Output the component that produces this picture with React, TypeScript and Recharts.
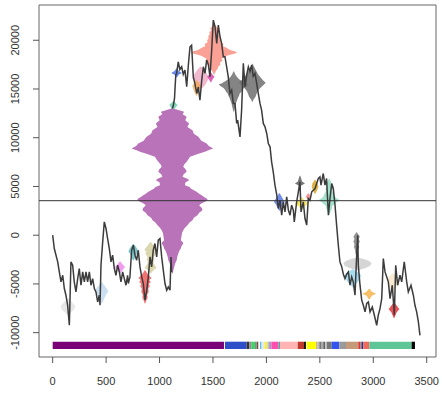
import React from 'react';
import { ComposedChart, Line, Area, XAxis, YAxis, ReferenceArea, ReferenceLine } from 'recharts';

// ---- main series (index, value); null = gap in the drawn line ----
const walk: [number, number | null][] = [
  [0, 0], [15, -1370], [47, -2740], [62, -3770], [78, -4790], [94, -4110], [109, -5470], [124, -6160],
  [140, -7190], [156, -9240], [171, -2740], [187, -3080], [202, -4790], [218, -5820], [234, -4450],
  [249, -3420], [265, -5130], [281, -3770], [296, -4790], [312, -3770], [327, -4790], [343, -3770],
  [358, -5130], [374, -4450], [390, -5470], [405, -5820], [421, -6850], [436, -6160], [443, -7190],
  [452, -3080], [468, -690], [483, 1370], [499, 690], [514, -340], [530, -1370], [546, -2740],
  [561, -2050], [577, -3420], [592, -4110], [608, -3080], [624, -3770], [639, -4790], [655, -3770],
  [670, -4450], [686, -5130], [701, -4110], [708, -4960], [723, -4280], [739, -1540], [755, -1030],
  [770, -2050], [786, -2570], [801, -1540], [817, -3250], [833, -4280], [848, -4960], [864, -6670],
  [880, -5650], [895, -4280], [911, -2230], [926, -3250], [941, -1540], [957, -850], [973, -2230],
  [988, -510], [1004, -340], [1020, -2230], [1035, -3590], [1051, -4960], [1067, -5650], [1082, -5300],
  [1098, -5650], [1107, -2230], [1113, -3800], [1116, null],
  [1120, 13000], [1130, 13350], [1140, 14030], [1145, 15060], [1152, 16430], [1160, 16600],
  [1175, 17790], [1190, 17000], [1207, 17280], [1222, 16500], [1238, 16940], [1254, 15230],
  [1270, 17500], [1285, 19330], [1300, 19500], [1316, 16250], [1332, 15500], [1348, 14540],
  [1363, 15200], [1378, 13860], [1394, 15800], [1410, 17280], [1425, 16600], [1441, 17970],
  [1457, 17500], [1472, 16250], [1488, 19000], [1503, 22070], [1519, 21390], [1535, 19680],
  [1550, 21560], [1566, 20360], [1581, 19680], [1597, 18310], [1612, 18310], [1628, 17280],
  [1643, 16250], [1659, 14540], [1675, 14890], [1690, 13520], [1706, 13520], [1722, 11470],
  [1731, 11810], [1753, 10090], [1768, 12830], [1784, 17630], [1800, 15230], [1815, 16400],
  [1831, 17280], [1846, 16800], [1862, 17450], [1877, 16300], [1893, 16600], [1909, 15570],
  [1924, 14540], [1940, 13520], [1955, 12830], [1971, 11470], [1987, 11120], [2003, 10440],
  [2018, 9410], [2034, 9070], [2049, 7500], [2064, 6500], [2080, 5130], [2096, 4200], [2111, 2740],
  [2127, 3590], [2143, 2050], [2158, 3420], [2174, 2390], [2190, 3930], [2205, 2600], [2221, 2050],
  [2236, 3080], [2252, 2570], [2261, 1370], [2283, 3420], [2299, 4450], [2314, 5470], [2324, 2390],
  [2345, 3420], [2361, 1710], [2377, 1030], [2392, 3770], [2408, 3590], [2424, 4450], [2439, 4620],
  [2455, 4790], [2470, 5300], [2486, 5820], [2501, 5990], [2511, 5130], [2532, 6330], [2548, 5130],
  [2563, 5820], [2580, 2050], [2595, 3770], [2611, 5300], [2626, 4790], [2642, 3080], [2657, 1030],
  [2673, -1030], [2688, -2740], [2704, -3200], [2720, -4000], [2735, -4450], [2751, -4000],
  [2767, -3770], [2782, -5130], [2798, -4280], [2813, -4790], [2829, -6160], [2845, -2000],
  [2854, 0], [2860, -3080], [2876, -5130], [2892, -6670], [2907, -7190], [2923, -7870], [2939, -7000],
  [2954, -6850], [2970, -7870], [2991, -7360], [3010, -8210], [3032, -9240], [3047, -8210],
  [3063, -7530], [3079, -6500], [3094, -2390], [3110, -3770], [3126, -4280], [3141, -4790],
  [3157, -6500], [3178, -5130], [3197, -8210], [3210, -3080], [3228, -5130], [3250, -4110],
  [3266, -4790], [3290, -2740], [3313, -4790], [3328, -5820], [3353, -5130], [3375, -6160],
  [3390, -7190], [3406, -7870], [3422, -8900], [3437, -10270],
];

const hLevel = 3540;

// ---- bottom segment bar ----
const barStart = [0, 1612, 1815, 1840, 1862, 1893, 1909, 1940, 1955, 1986, 2003, 2018, 2034, 2049, 2112, 2127, 2293, 2352, 2377, 2464, 2480, 2495, 2517, 2533, 2548, 2564, 2611, 2682, 2745, 2860, 2880, 2891, 2906, 2963, 3359];
const barEnd = [1603, 1815, 1840, 1862, 1893, 1909, 1924, 1955, 1986, 2003, 2018, 2034, 2049, 2112, 2127, 2293, 2352, 2370, 2464, 2480, 2495, 2517, 2533, 2548, 2564, 2611, 2682, 2745, 2860, 2880, 2891, 2906, 2963, 3359, 3390];
const barColor = ['#7A0077', '#2E4FC7', '#333333', '#8C8C8C', '#35D864', '#8C8C8C', '#6B5A4A', '#5BC0EB', '#E8E8E8', '#FFF200', '#D8D8A0', '#B0A0D0', '#C080C0', '#FF4FAF', '#5F9EA0', '#FFB3B3', '#C0392B', '#111111', '#FFFF00', '#D2B48C', '#BBBBBB', '#777777', '#AAAAAA', '#555555', '#C8C8C8', '#777777', '#3355EE', '#9A9A9A', '#C49A7A', '#E8342B', '#777777', '#223399', '#F06A5A', '#5DC596', '#000000'];
const barLow = -11675;
const barHigh = -10926;

// ---- glyphs: rows of [value, half-width] around a centre index ----
const purpleRows = [[13250, 3], [13005, 8], [12662, 109], [12400, 95], [12149, 133], [11800, 120], [11465, 156], [11100, 140], [10780, 187], [10400, 200], [10096, 242], [9700, 270], [9411, 320], [9150, 340], [8898, 382], [8700, 330], [8556, 304], [8300, 230], [8042, 164], [7800, 150], [7529, 133], [7250, 110], [7016, 101], [6750, 125], [6502, 133], [6250, 105], [5989, 94], [5800, 140], [5647, 156], [5400, 120], [5133, 117], [4950, 160], [4791, 172], [4600, 200], [4449, 226], [4250, 250], [4107, 273], [3900, 300], [3765, 320], [3600, 330], [3422, 304], [3250, 270], [3080, 250], [2800, 275], [2567, 281], [2300, 250], [2053, 234], [1800, 200], [1540, 187], [1300, 160], [1027, 140], [750, 115], [513, 101], [250, 90], [0, 86], [-250, 82], [-513, 78], [-700, 95], [-856, 101], [-1100, 85], [-1369, 78], [-1600, 65], [-1882, 55], [-2200, 45], [-2567, 39], [-2900, 25], [-3251, 16], [-3600, 8], [-3935, 3]];
const salmonRows = [[21700, 3], [21400, 20], [21200, 35], [21000, 28], [20800, 45], [20600, 40], [20400, 55], [20200, 50], [20000, 65], [19800, 60], [19600, 90], [19400, 80], [19200, 120], [19000, 150], [18850, 200], [18700, 215], [18550, 160], [18400, 120], [18250, 95], [18100, 70], [17900, 80], [17700, 55], [17500, 60], [17300, 40], [17100, 35], [16900, 20], [16700, 10], [16500, 3]];
const grey1Rows = [[16800, 3], [16500, 15], [16250, 30], [16000, 50], [15800, 80], [15600, 110], [15450, 140], [15300, 125], [15100, 95], [14900, 80], [14700, 70], [14500, 55], [14300, 50], [14100, 40], [13800, 30], [13500, 20], [13100, 12], [12700, 3]];
const grey2Rows = [[17600, 3], [17300, 15], [17000, 30], [16700, 45], [16400, 60], [16150, 80], [15900, 100], [15650, 125], [15450, 110], [15200, 85], [15000, 65], [14750, 50], [14500, 40], [14200, 30], [13900, 10], [13700, 3]];
const pinkRows = [[17300, 3], [17000, 30], [16700, 50], [16400, 65], [16100, 80], [15800, 60], [15500, 45], [15200, 25], [15000, 3]];
const orangeRows = [[15900, 3], [15600, 25], [15300, 40], [15000, 30], [14700, 20], [14300, 3]];
const magentaRows = [[16700, 3], [16400, 20], [16250, 35], [16050, 20], [15700, 3]];
const blueRows = [[17100, 3], [16850, 20], [16650, 50], [16450, 20], [16200, 3]];
const tealRows = [[13750, 3], [13500, 25], [13350, 40], [13150, 25], [12900, 3]];
const blue2Rows = [[4300, 3], [4000, 20], [3600, 40], [3420, 51], [3200, 35], [2800, 15], [2500, 3]];
const yellowRows = [[3900, 3], [3500, 30], [3250, 62], [3000, 30], [2600, 3]];
const greyStarRows = [[6100, 3], [5800, 12], [5500, 20], [5300, 47], [5100, 12], [4600, 3]];
const goldRows = [[5700, 3], [5300, 25], [4960, 31], [4600, 20], [4250, 3]];
const salmon2Rows = [[4300, 3], [3950, 25], [3600, 3]];
const teal2Rows = [[5800, 3], [5500, 15], [5300, 25], [5000, 20], [4800, 35], [4500, 30], [4200, 45], [3950, 55], [3800, 70], [3590, 101], [3400, 70], [3200, 50], [3000, 30], [2700, 25], [2400, 12], [2100, 3]];
const greyTallRows = [[300, 3], [100, 15], [-150, 30], [-400, 20], [-650, 30], [-900, 20], [-1200, 25], [-1500, 15], [-1800, 12], [-2200, 3]];
const lightGreyRows = [[-2300, 3], [-2450, 60], [-2650, 110], [-2900, 133], [-3150, 115], [-3400, 70], [-3600, 3]];
const lightBlueRows = [[-3500, 3], [-3800, 50], [-4100, 80], [-4400, 70], [-4700, 55], [-5000, 30], [-5350, 3]];
const orange2Rows = [[-5500, 3], [-5800, 25], [-6000, 65], [-6200, 25], [-6600, 3]];
const red2Rows = [[-6900, 3], [-7300, 30], [-7600, 50], [-7900, 25], [-8500, 3]];
const wheatRows = [[-3900, 3], [-4300, 35], [-4700, 50], [-5100, 40], [-5500, 20], [-5850, 3]];
const lightGrey2Rows = [[-6500, 3], [-6900, 40], [-7300, 70], [-7600, 60], [-7900, 30], [-8200, 3]];
const lightBlue2Rows = [[-4800, 3], [-5200, 30], [-5500, 50], [-5800, 62], [-6100, 40], [-6500, 25], [-7000, 3]];
const magenta2Rows = [[-2700, 3], [-3000, 25], [-3250, 47], [-3500, 30], [-3900, 3]];
const cyanRows = [[-900, 3], [-1200, 25], [-1500, 40], [-1700, 47], [-1900, 30], [-2200, 20], [-2600, 3]];
const redRows = [[-3600, 3], [-3900, 20], [-4200, 45], [-4400, 62], [-4600, 40], [-4800, 55], [-5000, 35], [-5200, 45], [-5500, 30], [-5800, 35], [-6100, 20], [-6400, 25], [-6700, 12], [-7000, 3]];
const khakiRows = [[-700, 3], [-1000, 25], [-1300, 45], [-1500, 60], [-1700, 40], [-1900, 50], [-2200, 30], [-2500, 35], [-2800, 25], [-3100, 40], [-3350, 55], [-3600, 25], [-3900, 3]];

const glyphs = [
  { c: 1121, rows: purpleRows, color: '#800080', op: 0.55 },
  { c: 1510, rows: salmonRows, color: '#FA8072', op: 0.75 },
  { c: 1694, rows: grey1Rows, color: '#6E6E6E', op: 0.85 },
  { c: 1868, rows: grey2Rows, color: '#6E6E6E', op: 0.85 },
  { c: 1386, rows: pinkRows, color: '#E88AAE', op: 0.6 },
  { c: 1347, rows: orangeRows, color: '#F5A040', op: 0.7 },
  { c: 1480, rows: magentaRows, color: '#D63AA8', op: 0.8 },
  { c: 1160, rows: blueRows, color: '#4169E1', op: 0.8 },
  { c: 1130, rows: tealRows, color: '#66CDAA', op: 0.8 },
  { c: 2121, rows: blue2Rows, color: '#4466DD', op: 0.75 },
  { c: 2330, rows: yellowRows, color: '#F5E040', op: 0.8 },
  { c: 2314, rows: greyStarRows, color: '#555555', op: 0.8 },
  { c: 2455, rows: goldRows, color: '#D4A017', op: 0.8 },
  { c: 2392, rows: salmon2Rows, color: '#F08080', op: 0.8 },
  { c: 2587, rows: teal2Rows, color: '#66CDAA', op: 0.6 },
  { c: 2852, rows: lightGreyRows, color: '#D0D0D0', op: 0.9 },
  { c: 2844, rows: greyTallRows, color: '#777777', op: 0.8 },
  { c: 2808, rows: lightBlueRows, color: '#87CEEB', op: 0.7 },
  { c: 2962, rows: orange2Rows, color: '#F5B041', op: 0.8 },
  { c: 3180, rows: wheatRows, color: '#F5DEB3', op: 0.6 },
  { c: 3194, rows: red2Rows, color: '#E8343B', op: 0.85 },
  { c: 143, rows: lightGrey2Rows, color: '#E4E4E4', op: 0.9 },
  { c: 458, rows: lightBlue2Rows, color: '#C6DBEF', op: 0.9 },
  { c: 630, rows: magenta2Rows, color: '#EE82EE', op: 0.8 },
  { c: 755, rows: cyanRows, color: '#5FB8C0', op: 0.8 },
  { c: 864, rows: redRows, color: '#F05050', op: 0.8 },
  { c: 917, rows: khakiRows, color: '#BDB76B', op: 0.55 },
];

const xTicks = [0, 500, 1000, 1500, 2000, 2500, 3000, 3500];
const yTicks = [-10000, -5000, 0, 5000, 10000, 15000, 20000];
const xDomain: [number, number] = [-128, 3587];
const yDomain: [number, number] = [-12496, 23618];

const FONT = '"Liberation Sans", Arial, Helvetica, sans-serif';

const lineData = walk.map(([x, y]) => ({ x, y }));

const YTick = (props: any) => {
  const { x, y, payload } = props;
  return (
    <text x={x} y={y} transform={`rotate(-90, ${x}, ${y})`} textAnchor="middle" fontSize={11} fill="#333" fontFamily={FONT}>
      {payload.value}
    </text>
  );
};

export default function App() {
  const W = 442;
  const H = 394;
  return (
    <div style={{ position: 'absolute', left: 0, top: 0, width: W, height: H, background: '#fff' }}>
      <div style={{ position: 'absolute', left: 0, top: 0 }}>
        <ComposedChart layout="vertical" width={W} height={H} margin={{ top: 5, right: 6, bottom: 37, left: 39 }}>
          <XAxis type="number" domain={xDomain} hide allowDataOverflow />
          <YAxis type="number" dataKey="y" domain={yDomain} hide allowDataOverflow reversed />
          {glyphs.map((g, i) => (
            <Area
              key={i}
              data={g.rows.map(([y, hw]) => ({ y, r: [g.c - hw, g.c + hw] }))}
              dataKey="r"
              type="linear"
              stroke="none"
              fill={g.color}
              fillOpacity={g.op}
              isAnimationActive={false}
            />
          ))}
        </ComposedChart>
      </div>
      <div style={{ position: 'absolute', left: 0, top: 0 }}>
        <ComposedChart width={W} height={H} data={lineData} margin={{ top: 5, right: 6, bottom: 0, left: 0 }}>
          <XAxis
            type="number"
            dataKey="x"
            domain={xDomain}
            ticks={xTicks}
            interval={0}
            allowDataOverflow
            axisLine={false}
            tickSize={6}
            tickMargin={14}
            height={37}
            tickLine={{ stroke: '#555' }}
            tick={{ fontSize: 11, fill: '#333', fontFamily: FONT }}
          />
          <YAxis
            type="number"
            domain={yDomain}
            ticks={yTicks}
            interval={0}
            allowDataOverflow
            axisLine={false}
            tickSize={6}
            tickMargin={14}
            width={39}
            tickLine={{ stroke: '#555' }}
            tick={<YTick />}
          />
          <ReferenceArea x1={xDomain[0]} x2={xDomain[1]} y1={yDomain[0]} y2={yDomain[1]} fill="none" stroke="#666" strokeWidth={1} ifOverflow="visible" />
          {barStart.map((s, i) => (
            <ReferenceArea key={i} x1={s} x2={barEnd[i]} y1={barLow} y2={barHigh} fill={barColor[i]} fillOpacity={1} stroke="none" ifOverflow="visible" />
          ))}
          <Line dataKey="y" stroke="#3c3c3c" strokeWidth={1.5} dot={false} isAnimationActive={false} connectNulls={false} />
          <ReferenceLine y={hLevel} stroke="#333" strokeWidth={1} ifOverflow="visible" />
        </ComposedChart>
      </div>
    </div>
  );
}
